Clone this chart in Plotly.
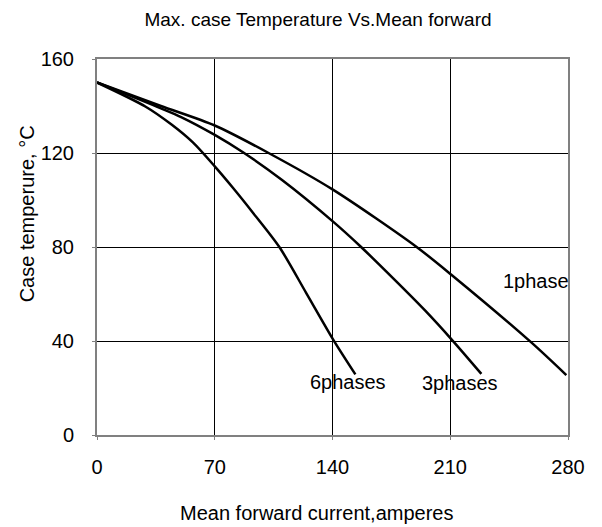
import plotly.graph_objects as go

# Data
x_1phase = [0, 38, 70, 102, 140, 190, 211, 258, 279]
y_1phase = [150, 140, 131.7, 120, 104.5, 80, 68, 39.5, 25.5]

x_3phases = [0, 38, 50, 70, 87, 110, 140, 157, 177, 195, 211, 228.5]
y_3phases = [150, 139, 135.3, 127.7, 120.2, 108.5, 91, 80, 66, 53, 40.5, 26]

x_6phases = [0, 28.7, 44.5, 57, 70, 80.9, 92.8, 108.4, 124.4, 140.5, 153.6]
y_6phases = [150, 139.8, 132, 124.5, 114.3, 105.1, 94.5, 80, 60.4, 40.5, 25.8]

labels = ["1phase", "3phases", "6phases"]
label_x = [261, 216, 149]
label_y = [65.4, 22.1, 22.4]

x_ticks = [0, 70, 140, 210, 280]
y_ticks = [0, 40, 80, 120, 160]

FONT = "Liberation Sans, Arial, sans-serif"

# the page body adds an 8px margin, so the figure is sized to fit inside it
W, H = 594, 519

fig = go.Figure()
for xs, ys in [(x_1phase, y_1phase), (x_3phases, y_3phases), (x_6phases, y_6phases)]:
    fig.add_trace(go.Scatter(x=xs, y=ys, mode="lines",
                             line=dict(color="black", width=2.5, shape="spline", smoothing=0.8),
                             showlegend=False, hoverinfo="skip"))

for t, lx, ly in zip(labels, label_x, label_y):
    fig.add_annotation(x=lx, y=ly, text=t, showarrow=False,
                       font=dict(family=FONT, size=20, color="black"))

# axis titles (placed off-centre as in the reference)
fig.add_annotation(xref="paper", yref="paper", x=0.467, y=-0.207,
                   text="Mean forward current,amperes", showarrow=False,
                   xanchor="center", yanchor="middle",
                   font=dict(family=FONT, size=20, color="black"))
fig.add_annotation(xref="paper", yref="paper", x=-0.149, y=0.589,
                   text="Case temperure, °C", showarrow=False, textangle=-90,
                   xanchor="center", yanchor="middle",
                   font=dict(family=FONT, size=20, color="black"))

fig.update_layout(
    width=W, height=H,
    margin=dict(l=89, r=34, t=51, b=92),
    paper_bgcolor="white", plot_bgcolor="white",
    title=dict(text="Max. case Temperature Vs.Mean forward", x=310/W, xanchor="center",
               y=1 - 11/H, yanchor="middle",
               font=dict(family=FONT, size=19, color="black")),
    font=dict(family=FONT, size=20, color="black"),
)
fig.update_xaxes(range=[0, 280], tickvals=x_ticks, showgrid=True, gridcolor="black", gridwidth=1,
                 showline=True, linecolor="#808080", linewidth=2, mirror=True,
                 ticks="outside", ticklen=3, tickcolor="#808080", ticklabelstandoff=10,
                 zeroline=False, automargin=False,
                 tickfont=dict(family=FONT, size=20, color="black"))
fig.update_yaxes(range=[0, 160], tickvals=y_ticks, showgrid=True, gridcolor="black", gridwidth=1,
                 showline=True, linecolor="#808080", linewidth=2, mirror=True,
                 ticks="outside", ticklen=3, tickcolor="#808080", ticklabelstandoff=14,
                 zeroline=False, automargin=False,
                 tickfont=dict(family=FONT, size=20, color="black"))

fig.write_html("out.html")
